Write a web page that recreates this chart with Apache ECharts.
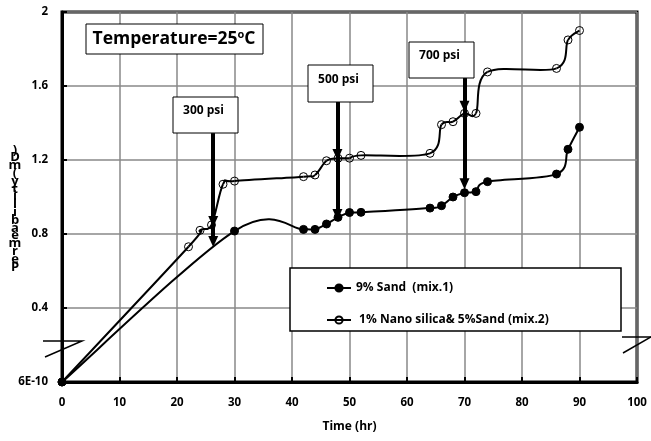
<!DOCTYPE html>
<html>
<head>
<meta charset="utf-8">
<script src="https://cdn.jsdelivr.net/npm/echarts@6/dist/echarts.min.js"></script>
<style>
html,body{margin:0;padding:0;background:#fff;}
#c{width:651px;height:441px;}
</style>
</head>
<body>
<div id="c"></div>
<script>
// ---- data ----
const xTicks = [0, 10, 20, 30, 40, 50, 60, 70, 80, 90, 100];
const yTickLabels = ['6E-10', '0.4', '0.8', '1.2', '1.6', '2'];
const mix1Name = '9% Sand  (mix.1)';
const mix2Name = ' 1% Nano silica& 5%Sand (mix.2)';
const mix1X = [0, 30, 42, 44, 46, 48, 50, 52, 64, 66, 68, 70, 72, 74, 86, 88, 90];
const mix1Y = [0, 0.816, 0.825, 0.825, 0.854, 0.89, 0.916, 0.917, 0.94, 0.953, 1.0, 1.023, 1.029, 1.083, 1.124, 1.258, 1.377];
const mix2X = [0, 22, 24, 26, 28, 30, 42, 44, 46, 48, 50, 52, 64, 66, 68, 70, 72, 74, 86, 88, 90];
const mix2Y = [0, 0.731, 0.82, 0.849, 1.069, 1.086, 1.11, 1.119, 1.196, 1.209, 1.21, 1.225, 1.236, 1.391, 1.407, 1.452, 1.452, 1.676, 1.695, 1.849, 1.9];
// pressure annotations: x, top of arrow, tip on mix.2, tip on mix.1
const psiLabels = ['300 psi', '500 psi', '700 psi'];
const psiX = [26.3, 47.9, 70];
const psiTop = [1.344, 1.514, 1.642];
const psiTip2 = [0.838, 1.2, 1.461];
const psiTip1 = [0.73, 0.876, 1.042];

const FONT = '"Open Sans"';
const chart = echarts.init(document.getElementById('c'), null, {renderer: 'canvas'});

function toPairs(xs, ys) { return xs.map((x, i) => [x, ys[i]]); }

function curveRender(xs, ys) {
  return function (params, api) {
    const i = params.dataIndex;
    if (i >= xs.length - 1) return null;
    const n = xs.length;
    const P = k => api.coord([xs[Math.max(0, Math.min(n - 1, k))], ys[Math.max(0, Math.min(n - 1, k))]]);
    const p0 = P(i - 1), p1 = P(i), p2 = P(i + 1), p3 = P(i + 2);
    return {
      type: 'bezierCurve',
      shape: {
        x1: p1[0], y1: p1[1], x2: p2[0], y2: p2[1],
        cpx1: p1[0] + (p2[0] - p0[0]) / 6, cpy1: p1[1] + (p2[1] - p0[1]) / 6,
        cpx2: p2[0] - (p3[0] - p1[0]) / 6, cpy2: p2[1] - (p3[1] - p1[1]) / 6
      },
      style: {stroke: '#000', lineWidth: 2, fill: null}
    };
  };
}

const arrowData = [];
const ARW = 0.03;
psiX.forEach((x, i) => {
  arrowData.push([{coord: [x, psiTop[i]]}, {coord: [x, psiTip2[i] + ARW]}]);
  arrowData.push([{coord: [x, psiTop[i]]}, {coord: [x, psiTip1[i] + ARW]}]);
});

// annotation boxes (pixel layout)
const boxes = [
  {x: 173, y: 97, w: 65, h: 36},
  {x: 308, y: 65, w: 65, h: 37},
  {x: 409, y: 42, w: 65, h: 36}
];
const graphics = [];
boxes.forEach((b, i) => {
  graphics.push({type: 'rect', shape: {x: b.x, y: b.y, width: b.w, height: b.h},
    style: {fill: '#fff', stroke: '#000', lineWidth: 1}, z: 100});
  graphics.push({type: 'text', x: b.x + b.w / 2 - 2, y: b.y + b.h / 2 - 4,
    style: {text: psiLabels[i], font: 'bold 12px ' + FONT, fill: '#000', align: 'center', verticalAlign: 'middle'}, z: 101});
});
// temperature box
graphics.push({type: 'rect', shape: {x: 86, y: 24, width: 177, height: 30},
  style: {fill: '#fff', stroke: '#000', lineWidth: 1}, z: 100});
graphics.push({type: 'text', x: 174, y: 39,
  style: {text: '{a|Temperature=25}{s|o}{a|C}', align: 'center', verticalAlign: 'middle',
    rich: {a: {font: 'bold 17.5px ' + FONT, fill: '#000'}, s: {font: 'bold 11px ' + FONT, fill: '#000', padding: [0, 0, 9, 0]}}}, z: 101});
// legend frame
graphics.push({type: 'rect', shape: {x: 290, y: 268, width: 331, height: 63},
  style: {fill: '#fff', stroke: '#000', lineWidth: 1.5}, z: 50});
// axis break marks
graphics.push({type: 'polyline', shape: {points: [[43, 341], [82, 341], [45, 357]]},
  style: {stroke: '#000', lineWidth: 1.5, fill: null}, z: 100});
graphics.push({type: 'polyline', shape: {points: [[622, 337], [651, 337]]},
  style: {stroke: '#000', lineWidth: 1.5, fill: null}, z: 100});
graphics.push({type: 'polyline', shape: {points: [[651, 337], [623, 353]]},
  style: {stroke: '#000', lineWidth: 1.5, fill: null}, z: 100});
// y-axis title (stacked characters, as in the original)
graphics.push({type: 'text', x: 15, y: 146,
  style: {text: ')Dm(ytilibaemreP'.split('').join('\n'), font: 'bold 13px ' + FONT, fill: '#000',
    align: 'center', verticalAlign: 'top', lineHeight: 7.8}, z: 100});

const option = {
  animation: false,
  backgroundColor: '#fff',
  grid: {left: 62, right: 14, top: 12, bottom: 59, containLabel: false, show: true,
    borderColor: '#000', borderWidth: 3, backgroundColor: 'transparent'},
  xAxis: {
    type: 'value', min: 0, max: 100, interval: 10,
    name: 'Time (hr)', nameLocation: 'middle', nameGap: 39,
    nameTextStyle: {fontFamily: FONT, fontWeight: 'bold', fontSize: 12, color: '#000'},
    axisLine: {lineStyle: {color: '#000', width: 3}},
    axisTick: {show: true, inside: true, length: 5, lineStyle: {color: '#000', width: 2}},
    axisLabel: {margin: 15, fontFamily: FONT, fontWeight: 'bold', fontSize: 11.5, color: '#000',
      formatter: v => String(xTicks[Math.round(v / 10)])},
    splitLine: {show: true, lineStyle: {color: '#888', width: 1.5}}
  },
  yAxis: {
    type: 'value', min: 0, max: 2, interval: 0.4,
    axisLine: {show: true, lineStyle: {color: '#000', width: 3}},
    axisTick: {show: true, inside: true, length: 5, lineStyle: {color: '#000', width: 2}},
    axisLabel: {margin: 14, fontFamily: FONT, fontWeight: 'bold', fontSize: 11.5, color: '#000',
      formatter: v => yTickLabels[Math.round(v / 0.4)]},
    splitLine: {show: true, lineStyle: {color: '#888', width: 1.5}}
  },
  legend: {
    orient: 'vertical', left: 321, top: 275, itemGap: 16, itemWidth: 24, itemHeight: 9,
    data: [mix1Name, mix2Name],
    textStyle: {fontFamily: FONT, fontWeight: 'bold', fontSize: 12, color: '#000', lineHeight: 16},
    lineStyle: {opacity: 1, width: 2, color: '#000'},
    z: 60
  },
  series: [
    {type: 'custom', name: 'c2', coordinateSystem: 'cartesian2d', data: toPairs(mix2X, mix2Y),
      renderItem: curveRender(mix2X, mix2Y), encode: {x: 0, y: 1}, silent: true, z: 3},
    {type: 'custom', name: 'c1', coordinateSystem: 'cartesian2d', data: toPairs(mix1X, mix1Y),
      renderItem: curveRender(mix1X, mix1Y), encode: {x: 0, y: 1}, silent: true, z: 3},
    {type: 'line', name: mix2Name, data: toPairs(mix2X, mix2Y), symbol: 'circle', symbolSize: 8,
      showAllSymbol: true,
      itemStyle: {color: 'rgba(255,255,255,0)', borderColor: '#000', borderWidth: 1},
      lineStyle: {opacity: 0, width: 2, color: '#000'}, z: 4},
    {type: 'line', name: mix1Name, data: toPairs(mix1X, mix1Y), symbol: 'circle', symbolSize: 8,
      showAllSymbol: true,
      itemStyle: {color: '#000', borderColor: '#000', borderWidth: 1},
      lineStyle: {opacity: 0, width: 2, color: '#000'}, z: 5,
      markLine: {silent: true, symbol: ['none', 'triangle'], symbolSize: [10, 11],
        lineStyle: {color: '#000', width: 4, type: 'solid', opacity: 1},
        itemStyle: {color: '#000'},
        label: {show: false}, emphasis: {disabled: true}, data: arrowData}}
  ],
  graphic: graphics
};
chart.setOption(option);
</script>
</body>
</html>
